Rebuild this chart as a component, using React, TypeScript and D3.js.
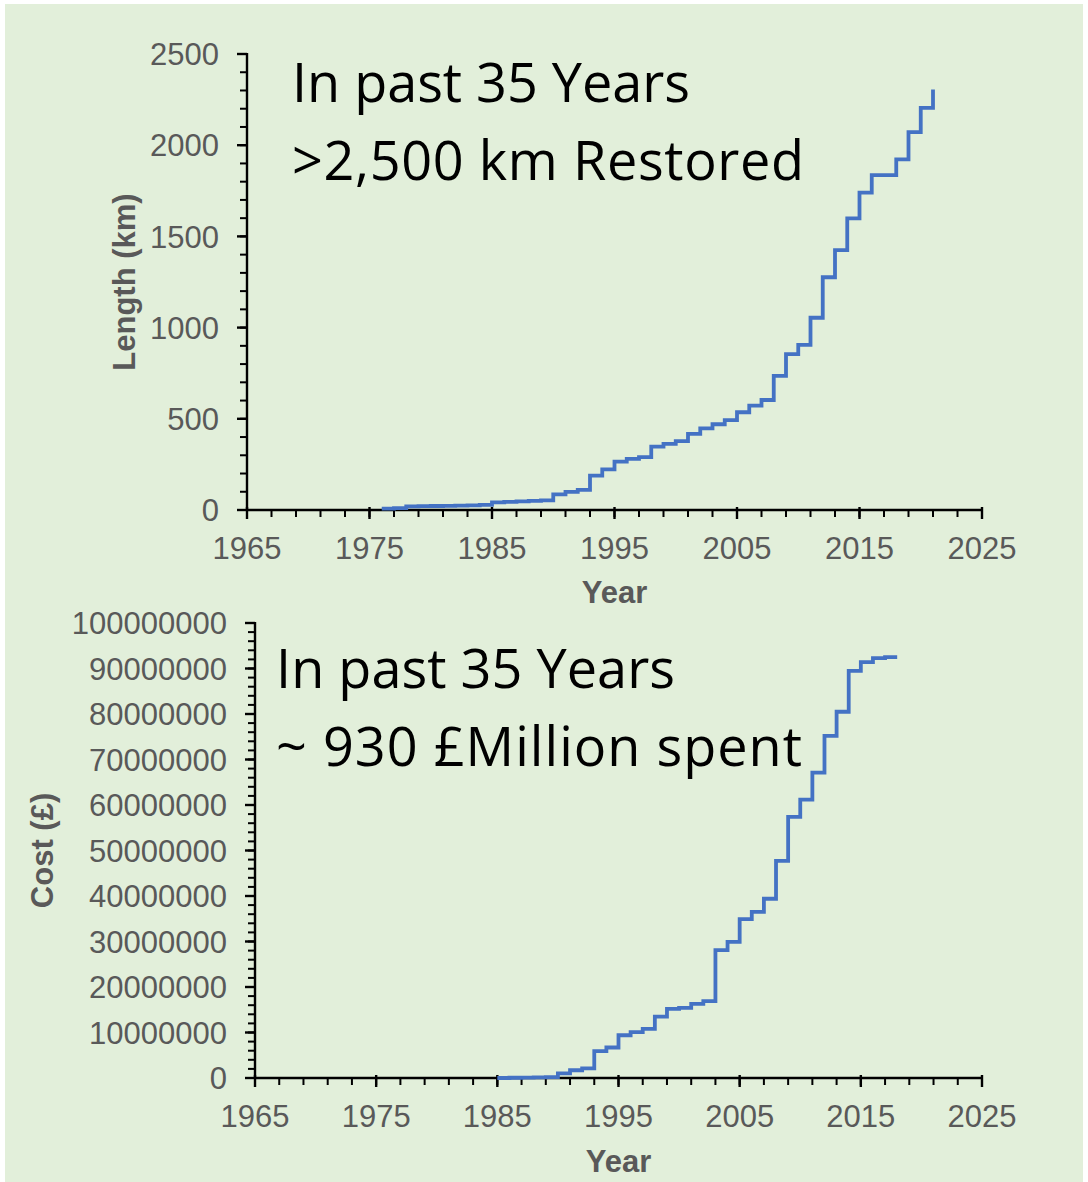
import React from "react";
import * as d3 from "d3";

// Cumulative length of restored river (km), by year
const lengthYears = [
  1976, 1977, 1978, 1979, 1980, 1981, 1982, 1983, 1984, 1985, 1986, 1987, 1988, 1989,
  1990, 1991, 1992, 1993, 1994, 1995, 1996, 1997, 1998, 1999, 2000, 2001, 2002, 2003,
  2004, 2005, 2006, 2007, 2008, 2009, 2010, 2011, 2012, 2013, 2014, 2015, 2016, 2017,
  2018, 2019, 2020, 2021,
];
const lengthKm = [
  8, 10, 20, 21, 22, 23, 24, 25, 28, 42, 44, 47, 50, 53,
  86, 99, 110, 188, 223, 265, 280, 290, 347, 362, 378, 417, 448, 470,
  493, 536, 572, 603, 735, 855, 905, 1054, 1276, 1425, 1599, 1740, 1836, 1836,
  1922, 2072, 2205, 2306,
];

// Cumulative cost of restoration (£), by year
const costYears = [
  1985, 1986, 1987, 1988, 1989, 1990, 1991, 1992, 1993, 1994, 1995, 1996, 1997, 1998,
  1999, 2000, 2001, 2002, 2003, 2004, 2005, 2006, 2007, 2008, 2009, 2010, 2011, 2012,
  2013, 2014, 2015, 2016, 2017, 2018,
];
const costGBP = [
  0, 50000, 100000, 150000, 200000, 1000000, 1700000, 2100000, 5900000, 6700000, 9400000,
  10100000, 10800000, 13500000, 15200000, 15400000, 16300000, 16900000, 28100000,
  29900000, 34900000, 36500000, 39400000, 47700000, 57400000, 61200000, 67100000,
  75200000, 80500000, 89500000, 91400000, 92300000, 92500000, 92500000,
];

const yearTicks = [1965, 1975, 1985, 1995, 2005, 2015, 2025];
const lengthTicks = [0, 500, 1000, 1500, 2000, 2500];
const costTicks = [0, 10000000, 20000000, 30000000, 40000000, 50000000, 60000000, 70000000, 80000000, 90000000, 100000000];

const topNote = ["In past 35 Years", ">2,500 km Restored"];
const bottomNote = ["In past 35 Years", "~ 930 £Million spent"];

const GREY = "#595959";
const LINE = "#4472C4";
const AXIS_FONT = "'Liberation Sans', Arial, sans-serif";
const NOTE_FONT = "'Open Sans', 'Noto Sans', sans-serif";

type PanelProps = {
  years: number[];
  values: number[];
  yMax: number;
  yTicks: number[];
  yMinorStep: number;
  xRange: [number, number];
  yRange: [number, number];
  yTitle: string;
  yTitleX: number;
  xTitleY: number;
  note: string[];
  noteWidths: number[];
  noteX: number;
  noteY: number;
};

function Panel(p: PanelProps) {
  const x = d3.scaleLinear().domain([1965, 2025]).range(p.xRange);
  const y = d3.scaleLinear().domain([0, p.yMax]).range(p.yRange);
  const pts = p.years.map((yr, i) => [yr, p.values[i]] as [number, number]);
  const line = d3
    .line<[number, number]>()
    .x((d) => x(d[0]))
    .y((d) => y(d[1]))
    .curve(d3.curveStepAfter);

  const x0 = p.xRange[0];
  const y0 = p.yRange[0];
  const xMinor = d3.range(1965, 2025.1, 2);
  const yMinor = d3.range(0, p.yMax + 1, p.yMinorStep);
  const xMid = (p.xRange[0] + p.xRange[1]) / 2;
  const yMid = (p.yRange[0] + p.yRange[1]) / 2;

  return (
    <g>
      {/* y axis */}
      <line x1={x0} x2={x0} y1={p.yRange[1] - 1} y2={y0} stroke="#000" strokeWidth={2.4} />
      {yMinor.map((v) => (
        <line key={"ym" + v} x1={x0 - 7} x2={x0} y1={y(v)} y2={y(v)} stroke="#000" strokeWidth={2} />
      ))}
      {p.yTicks.map((v) => (
        <g key={"yt" + v}>
          <line x1={x0 - 10} x2={x0} y1={y(v)} y2={y(v)} stroke="#000" strokeWidth={2.4} />
          <text
            x={x0 - 28}
            y={y(v)}
            dy="0.36em"
            textAnchor="end"
            fontFamily={AXIS_FONT}
            fontSize={31}
            fill={GREY}
          >
            {v}
          </text>
        </g>
      ))}
      {/* x axis */}
      <line x1={x0 - 1} x2={p.xRange[1]} y1={y0} y2={y0} stroke="#000" strokeWidth={2.4} />
      {xMinor.map((v) => (
        <line key={"xm" + v} x1={x(v)} x2={x(v)} y1={y0} y2={y0 + 7} stroke="#000" strokeWidth={2} />
      ))}
      {yearTicks.map((v) => (
        <g key={"xt" + v}>
          <line x1={x(v)} x2={x(v)} y1={y0 - 3} y2={y0 + 9} stroke="#000" strokeWidth={2.4} />
          <text
            x={x(v)}
            y={y0 + 49}
            textAnchor="middle"
            fontFamily={AXIS_FONT}
            fontSize={31}
            fill={GREY}
          >
            {v}
          </text>
        </g>
      ))}
      {/* axis titles */}
      <text
        x={xMid}
        y={p.xTitleY}
        textAnchor="middle"
        fontFamily={AXIS_FONT}
        fontWeight="bold"
        fontSize={31}
        fill={GREY}
      >
        Year
      </text>
      <text
        transform={`translate(${p.yTitleX},${yMid}) rotate(-90)`}
        textAnchor="middle"
        fontFamily={AXIS_FONT}
        fontWeight="bold"
        fontSize={31}
        fill={GREY}
      >
        {p.yTitle}
      </text>
      {/* cumulative step line */}
      <path d={line(pts) ?? ""} fill="none" stroke={LINE} strokeWidth={3.8} strokeLinejoin="miter" />
      {/* annotation */}
      {p.note.map((t, i) => (
        <text
          key={"n" + i}
          x={p.noteX}
          y={p.noteY + i * 78}
          fontFamily={NOTE_FONT}
          fontSize={54}
          fill="#000"
          textLength={p.noteWidths[i]}
          lengthAdjust="spacing"
        >
          {t}
        </text>
      ))}
    </g>
  );
}

export default function App() {
  return (
    <svg
      width={1088}
      height={1182}
      style={{ position: "absolute", left: 0, top: 0, display: "block" }}
    >
      <rect x={0} y={0} width={1088} height={1182} fill="#ffffff" />
      <rect x={5} y={4} width={1078} height={1178} fill="#E2EFDA" />
      <Panel
        years={lengthYears}
        values={lengthKm}
        yMax={2500}
        yTicks={lengthTicks}
        yMinorStep={100}
        xRange={[247, 982]}
        yRange={[510, 54]}
        yTitle="Length (km)"
        yTitleX={135}
        xTitleY={603}
        note={topNote}
        noteWidths={[398, 512]}
        noteX={292}
        noteY={102}
      />
      <Panel
        years={costYears}
        values={costGBP}
        yMax={100000000}
        yTicks={costTicks}
        yMinorStep={2000000}
        xRange={[255, 982]}
        yRange={[1078, 623]}
        yTitle="Cost (£)"
        yTitleX={53}
        xTitleY={1172}
        note={bottomNote}
        noteWidths={[399, 526]}
        noteX={276}
        noteY={688}
      />
    </svg>
  );
}
